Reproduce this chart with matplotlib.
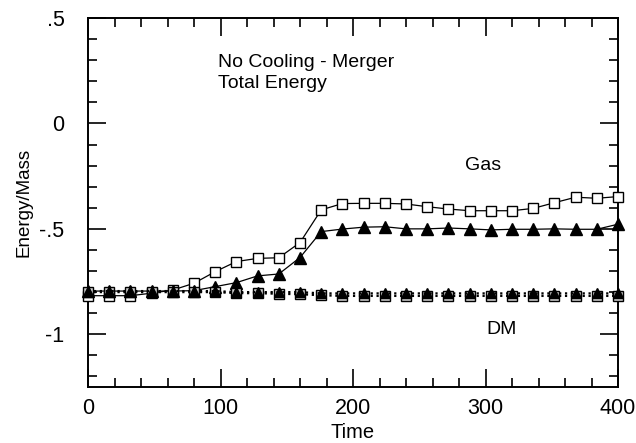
import numpy as np
from matplotlib import pyplot as plt
from matplotlib.ticker import MultipleLocator, FixedLocator, FixedFormatter

plt.rcParams['font.family'] = ['Liberation Sans', 'DejaVu Sans']

# sample times
time = [0, 16, 32, 48, 64, 80, 96, 112, 128, 144, 160, 176, 192,
        208, 224, 240, 256, 272, 288, 304, 320, 336, 352, 368, 384, 400]

# gas, open squares
gas_sq = [-0.817, -0.817, -0.817, -0.805, -0.790, -0.758, -0.703, -0.655, -0.640,
          -0.637, -0.565, -0.410, -0.380, -0.379, -0.379, -0.382, -0.395, -0.406,
          -0.414, -0.414, -0.414, -0.403, -0.376, -0.350, -0.355, -0.347]
# gas, filled triangles
gas_tri = [-0.795, -0.795, -0.795, -0.795, -0.795, -0.793, -0.774, -0.755, -0.723,
           -0.714, -0.636, -0.513, -0.501, -0.492, -0.490, -0.500, -0.500, -0.496,
           -0.500, -0.505, -0.502, -0.502, -0.500, -0.502, -0.502, -0.478]
# dark matter
dm_sq = [-0.800, -0.800, -0.800, -0.800, -0.800, -0.800, -0.800, -0.805, -0.805,
         -0.808, -0.810, -0.815, -0.818, -0.818, -0.818, -0.818, -0.818, -0.818,
         -0.818, -0.818, -0.818, -0.818, -0.818, -0.818, -0.818, -0.818]
dm_tri = [-0.795, -0.795, -0.795, -0.795, -0.795, -0.795, -0.795, -0.800, -0.800,
          -0.800, -0.800, -0.806, -0.806, -0.806, -0.806, -0.806, -0.806, -0.806,
          -0.806, -0.806, -0.806, -0.806, -0.806, -0.806, -0.806, -0.806]

y_ticks = [0.5, 0.0, -0.5, -1.0]
y_labels = ['.5', '0', '-.5', '-1']
x_ticks = [0, 100, 200, 300, 400]
x_labels = ['0', '100', '200', '300', '400']

fig = plt.figure(figsize=(6.36, 4.43), dpi=100)
ax = fig.add_axes([0.1384, 0.1264, 0.9717 - 0.1384, 0.9594 - 0.1264])

ms = 7.5
ax.plot(time, gas_sq, '-', color='black', lw=0.9, marker='s', ms=ms,
        mfc='white', mec='black', mew=1.0, clip_on=False, zorder=3)
ax.plot(time, gas_tri, '-', color='black', lw=0.9, marker='^', ms=ms + 1,
        mfc='black', mec='black', clip_on=False, zorder=3)
ax.plot(time, dm_sq, ':', color='black', lw=1.6, marker='s', ms=ms,
        mfc='#cccccc', mec='black', mew=1.0, clip_on=False, zorder=3)
ax.plot(time, dm_tri, ':', color='black', lw=1.6, marker='^', ms=ms,
        mfc='black', mec='black', clip_on=False, zorder=4)

ax.set_xlim(0, 400)
ax.set_ylim(-1.25, 0.5)

ax.xaxis.set_major_locator(FixedLocator(x_ticks))
ax.xaxis.set_major_formatter(FixedFormatter(x_labels))
ax.xaxis.set_minor_locator(MultipleLocator(20))
ax.yaxis.set_major_locator(FixedLocator(y_ticks))
ax.yaxis.set_major_formatter(FixedFormatter(y_labels))
ax.yaxis.set_minor_locator(MultipleLocator(0.1))

ax.tick_params(which='both', direction='in', top=True, right=True, width=1.2,
               labelsize=15.5)
ax.tick_params(axis='x', pad=8)
ax.tick_params(axis='y', pad=17)
ax.tick_params(which='major', length=13)
ax.tick_params(which='minor', length=6.5)
for s in ax.spines.values():
    s.set_linewidth(1.4)

ax.set_xlabel('Time', fontsize=14.5, labelpad=3)
ax.set_ylabel('Energy/Mass', fontsize=13.5, labelpad=5)

ax.text(0.245, 0.851, 'No Cooling - Merger\nTotal Energy', transform=ax.transAxes,
        fontsize=14, va='center', ha='left', linespacing=1.3)
ax.text(298, -0.2, 'Gas', fontsize=14, ha='center', va='center')
ax.text(312, -0.975, 'DM', fontsize=14, ha='center', va='center')

plt.savefig('out.png', dpi=100)
